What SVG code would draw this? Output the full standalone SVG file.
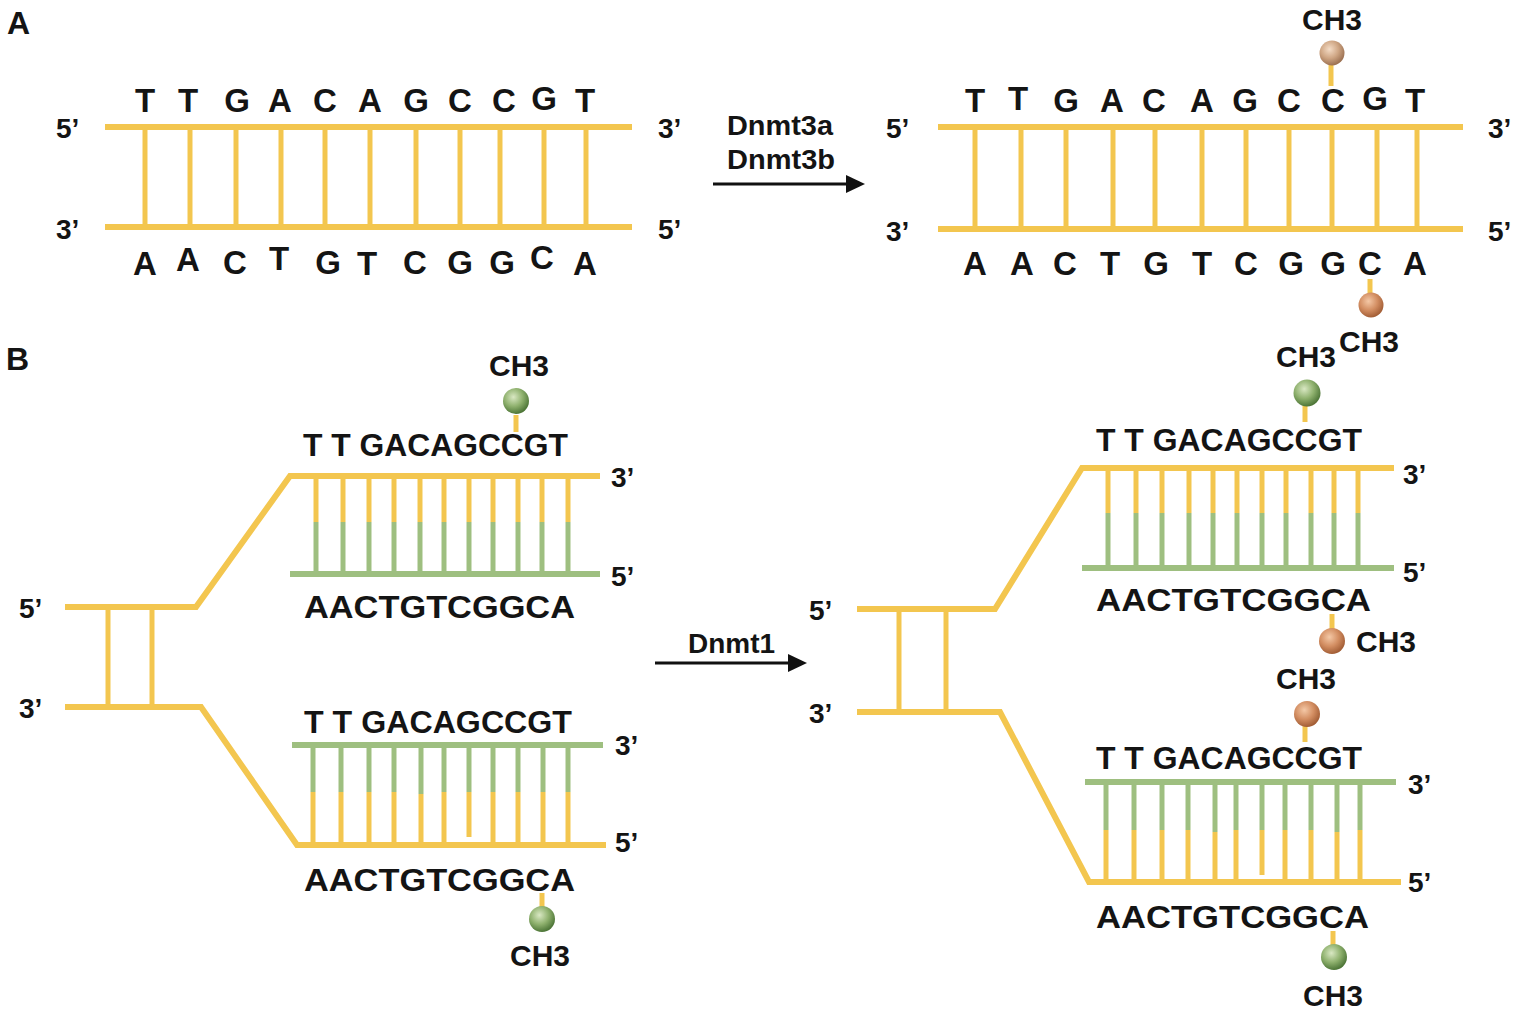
<svg xmlns="http://www.w3.org/2000/svg" width="1519" height="1015" viewBox="0 0 1519 1015">
<defs>
<style>
text{font-family:"Liberation Sans",Arial,Helvetica,sans-serif;font-weight:bold;fill:#141414}
.y{stroke:#F3C64F;stroke-width:6;fill:none;stroke-linejoin:miter}
.yr{stroke:#F3C64F;stroke-width:5;fill:none}
.g{stroke:#9EBF80;stroke-width:6;fill:none}
.gr{stroke:#9EBF80;stroke-width:5;fill:none}
.base{font-size:33px;text-anchor:middle}
.end{font-size:28px}
.seq{font-size:31px}
.ch{font-size:30px}
.lbl{font-size:32px}
.enz{font-size:28px}
.arr{stroke:#111;stroke-width:3;fill:none}
</style>
<radialGradient id="gGreen" cx="0.4" cy="0.35" r="0.65">
<stop offset="0" stop-color="#D9E8C3"/>
<stop offset="0.55" stop-color="#8FB16E"/>
<stop offset="1" stop-color="#4E7638"/>
</radialGradient>
<radialGradient id="gTan" cx="0.4" cy="0.35" r="0.65">
<stop offset="0" stop-color="#F4DCC6"/>
<stop offset="0.55" stop-color="#CFA684"/>
<stop offset="1" stop-color="#9C7152"/>
</radialGradient>
<radialGradient id="gOrange" cx="0.4" cy="0.35" r="0.65">
<stop offset="0" stop-color="#F4C8A6"/>
<stop offset="0.55" stop-color="#D38E62"/>
<stop offset="1" stop-color="#A35E36"/>
</radialGradient>
</defs>
<rect width="1519" height="1015" fill="#ffffff"/>

<g id="panel-labels">
<text class="lbl" x="7" y="34">A</text>
<text class="lbl" x="6" y="370">B</text>
</g>

<!-- Panel A left duplex -->
<g id="A-left-duplex">
<line class="y" x1="105" y1="127" x2="632" y2="127"/>
<line class="y" x1="105" y1="227" x2="632" y2="227"/>
<g class="yr">
<line x1="145" y1="127" x2="145" y2="227"/><line x1="190" y1="127" x2="190" y2="227"/>
<line x1="236" y1="127" x2="236" y2="227"/><line x1="281" y1="127" x2="281" y2="227"/>
<line x1="325" y1="127" x2="325" y2="227"/><line x1="370" y1="127" x2="370" y2="227"/>
<line x1="416" y1="127" x2="416" y2="227"/><line x1="460" y1="127" x2="460" y2="227"/>
<line x1="500" y1="127" x2="500" y2="227"/><line x1="544" y1="127" x2="544" y2="227"/>
<line x1="586" y1="127" x2="586" y2="227"/>
</g>
<text class="base" y="112"><tspan x="145">T</tspan><tspan x="188">T</tspan><tspan x="237">G</tspan><tspan x="280">A</tspan><tspan x="325">C</tspan><tspan x="370">A</tspan><tspan x="416">G</tspan><tspan x="460">C</tspan><tspan x="504">C</tspan><tspan x="544" y="110">G</tspan><tspan x="585" y="112">T</tspan></text>
<text class="base"><tspan x="145" y="275">A</tspan><tspan x="188" y="271">A</tspan><tspan x="235" y="274">C</tspan><tspan x="279" y="270">T</tspan><tspan x="328" y="274">G</tspan><tspan x="367" y="275">T</tspan><tspan x="415" y="274">C</tspan><tspan x="460" y="274">G</tspan><tspan x="502" y="274">G</tspan><tspan x="542" y="269">C</tspan><tspan x="585" y="275">A</tspan></text>
<text class="end" x="56" y="138">5’</text>
<text class="end" x="658" y="138">3’</text>
<text class="end" x="56" y="239">3’</text>
<text class="end" x="658" y="239">5’</text>
</g>

<!-- Panel A right duplex -->
<g id="A-right-duplex">
<line class="y" x1="938" y1="127" x2="1463" y2="127"/>
<line class="y" x1="938" y1="229" x2="1463" y2="229"/>
<g class="yr">
<line x1="975" y1="127" x2="975" y2="229"/><line x1="1021" y1="127" x2="1021" y2="229"/>
<line x1="1066" y1="127" x2="1066" y2="229"/><line x1="1113" y1="127" x2="1113" y2="229"/>
<line x1="1155" y1="127" x2="1155" y2="229"/><line x1="1202" y1="127" x2="1202" y2="229"/>
<line x1="1246" y1="127" x2="1246" y2="229"/><line x1="1289" y1="127" x2="1289" y2="229"/>
<line x1="1332" y1="127" x2="1332" y2="229"/><line x1="1377" y1="127" x2="1377" y2="229"/>
<line x1="1417" y1="127" x2="1417" y2="229"/>
</g>
<text class="base" y="112"><tspan x="975">T</tspan><tspan x="1018" y="110">T</tspan><tspan x="1066" y="112">G</tspan><tspan x="1112">A</tspan><tspan x="1154">C</tspan><tspan x="1202">A</tspan><tspan x="1245">G</tspan><tspan x="1289">C</tspan><tspan x="1333">C</tspan><tspan x="1375" y="110">G</tspan><tspan x="1415" y="112">T</tspan></text>
<text class="base" y="275"><tspan x="975">A</tspan><tspan x="1022">A</tspan><tspan x="1065">C</tspan><tspan x="1110">T</tspan><tspan x="1156">G</tspan><tspan x="1202">T</tspan><tspan x="1246">C</tspan><tspan x="1291">G</tspan><tspan x="1333">G</tspan><tspan x="1370">C</tspan><tspan x="1415">A</tspan></text>
<text class="end" x="886" y="138">5’</text>
<text class="end" x="1488" y="138">3’</text>
<text class="end" x="886" y="241">3’</text>
<text class="end" x="1488" y="241">5’</text>
</g>

<g id="A-right-methyl-top">
<line class="yr" x1="1331" y1="64" x2="1331" y2="86"/>
<circle cx="1332" cy="53" r="12.5" fill="url(#gTan)"/>
<text class="ch" x="1332" y="30" text-anchor="middle">CH3</text>
</g>
<g id="A-right-methyl-bottom">
<line class="yr" x1="1370" y1="279" x2="1370" y2="295"/>
<circle cx="1371" cy="305" r="12.5" fill="url(#gOrange)"/>
<text class="ch" x="1369" y="352" text-anchor="middle">CH3</text>
</g>

<!-- Panel B left -->
<g id="B-left-fork">
<polyline class="y" points="65,607 196,607 290,476 600,476"/>
<polyline class="y" points="65,707 201,707 297,845 606,845"/>
<line class="yr" x1="108" y1="607" x2="108" y2="707"/>
<line class="yr" x1="152" y1="607" x2="152" y2="707"/>
<text class="end" x="19" y="618">5’</text>
<text class="end" x="19" y="718">3’</text>
</g>

<g id="B-left-upper-duplex">
<line class="g" x1="290" y1="574" x2="600" y2="574"/>
<g class="yr">
<line x1="316" y1="476" x2="316" y2="522"/><line x1="343" y1="476" x2="343" y2="522"/>
<line x1="369" y1="476" x2="369" y2="522"/><line x1="394" y1="476" x2="394" y2="522"/>
<line x1="420" y1="476" x2="420" y2="522"/><line x1="444" y1="476" x2="444" y2="522"/>
<line x1="469" y1="476" x2="469" y2="522"/><line x1="493" y1="476" x2="493" y2="522"/>
<line x1="518" y1="476" x2="518" y2="522"/><line x1="542" y1="476" x2="542" y2="522"/>
<line x1="568" y1="476" x2="568" y2="522"/>
</g>
<g class="gr">
<line x1="316" y1="522" x2="316" y2="571"/><line x1="343" y1="522" x2="343" y2="571"/>
<line x1="369" y1="522" x2="369" y2="571"/><line x1="394" y1="522" x2="394" y2="571"/>
<line x1="420" y1="522" x2="420" y2="571"/><line x1="444" y1="522" x2="444" y2="571"/>
<line x1="469" y1="522" x2="469" y2="571"/><line x1="493" y1="522" x2="493" y2="571"/>
<line x1="518" y1="522" x2="518" y2="571"/><line x1="542" y1="522" x2="542" y2="571"/>
<line x1="568" y1="522" x2="568" y2="571"/>
</g>
<text class="seq" x="303" y="456" textLength="265" lengthAdjust="spacingAndGlyphs">T T GACAGCCGT</text>
<text class="seq" x="304" y="618" textLength="271" lengthAdjust="spacingAndGlyphs">AACTGTCGGCA</text>
<text class="end" x="611" y="487">3’</text>
<text class="end" x="611" y="586">5’</text>
<line class="yr" x1="516" y1="415" x2="516" y2="432"/>
<circle cx="516" cy="401" r="13" fill="url(#gGreen)"/>
<text class="ch" x="519" y="376" text-anchor="middle">CH3</text>
</g>

<g id="B-left-lower-duplex">
<line class="g" x1="292" y1="745" x2="603" y2="745"/>
<g class="gr">
<line x1="313" y1="745" x2="313" y2="792"/><line x1="341" y1="745" x2="341" y2="792"/>
<line x1="369" y1="745" x2="369" y2="792"/><line x1="394" y1="745" x2="394" y2="792"/>
<line x1="421" y1="745" x2="421" y2="794"/><line x1="444" y1="745" x2="444" y2="792"/>
<line x1="469" y1="745" x2="469" y2="792"/><line x1="493" y1="745" x2="493" y2="792"/>
<line x1="518" y1="745" x2="518" y2="792"/><line x1="543" y1="745" x2="543" y2="792"/>
<line x1="568" y1="745" x2="568" y2="792"/>
</g>
<g class="yr">
<line x1="313" y1="792" x2="313" y2="845"/><line x1="341" y1="792" x2="341" y2="845"/>
<line x1="369" y1="792" x2="369" y2="845"/><line x1="394" y1="792" x2="394" y2="845"/>
<line x1="421" y1="794" x2="421" y2="845"/><line x1="444" y1="792" x2="444" y2="845"/>
<line x1="469" y1="792" x2="469" y2="837"/><line x1="493" y1="792" x2="493" y2="845"/>
<line x1="518" y1="792" x2="518" y2="845"/><line x1="543" y1="792" x2="543" y2="845"/>
<line x1="568" y1="792" x2="568" y2="845"/>
</g>
<text class="seq" x="304" y="733" textLength="268" lengthAdjust="spacingAndGlyphs">T T GACAGCCGT</text>
<text class="seq" x="304" y="891" textLength="271" lengthAdjust="spacingAndGlyphs">AACTGTCGGCA</text>
<text class="end" x="615" y="755">3’</text>
<text class="end" x="615" y="852">5’</text>
<line class="yr" x1="542" y1="893" x2="542" y2="907"/>
<circle cx="542" cy="919" r="13" fill="url(#gGreen)"/>
<text class="ch" x="540" y="966" text-anchor="middle">CH3</text>
</g>

<!-- Panel B right -->
<g id="B-right-fork">
<polyline class="y" points="857,609 995,609 1082,468 1394,468"/>
<polyline class="y" points="857,712 1000,712 1089,882 1401,882"/>
<line class="yr" x1="899" y1="609" x2="899" y2="712"/>
<line class="yr" x1="946" y1="609" x2="946" y2="712"/>
<text class="end" x="809" y="620">5’</text>
<text class="end" x="809" y="723">3’</text>
</g>

<g id="B-right-upper-duplex">
<line class="g" x1="1082" y1="568" x2="1394" y2="568"/>
<g class="yr">
<line x1="1108" y1="468" x2="1108" y2="513"/><line x1="1136" y1="468" x2="1136" y2="513"/>
<line x1="1162" y1="468" x2="1162" y2="513"/><line x1="1189" y1="468" x2="1189" y2="513"/>
<line x1="1213" y1="468" x2="1213" y2="513"/><line x1="1237" y1="468" x2="1237" y2="513"/>
<line x1="1262" y1="468" x2="1262" y2="513"/><line x1="1286" y1="468" x2="1286" y2="513"/>
<line x1="1311" y1="468" x2="1311" y2="513"/><line x1="1334" y1="468" x2="1334" y2="513"/>
<line x1="1358" y1="468" x2="1358" y2="513"/>
</g>
<g class="gr">
<line x1="1108" y1="513" x2="1108" y2="566"/><line x1="1136" y1="513" x2="1136" y2="566"/>
<line x1="1162" y1="513" x2="1162" y2="566"/><line x1="1189" y1="513" x2="1189" y2="566"/>
<line x1="1213" y1="513" x2="1213" y2="566"/><line x1="1237" y1="513" x2="1237" y2="566"/>
<line x1="1262" y1="513" x2="1262" y2="566"/><line x1="1286" y1="513" x2="1286" y2="566"/>
<line x1="1311" y1="513" x2="1311" y2="566"/><line x1="1334" y1="513" x2="1334" y2="566"/>
<line x1="1358" y1="513" x2="1358" y2="566"/>
</g>
<text class="seq" x="1096" y="451" textLength="266" lengthAdjust="spacingAndGlyphs">T T GACAGCCGT</text>
<text class="seq" x="1096" y="611" textLength="275" lengthAdjust="spacingAndGlyphs">AACTGTCGGCA</text>
<text class="end" x="1403" y="484">3’</text>
<text class="end" x="1403" y="582">5’</text>
<line class="yr" x1="1305" y1="405" x2="1305" y2="422"/>
<circle cx="1307" cy="393" r="13.5" fill="url(#gGreen)"/>
<text class="ch" x="1306" y="367" text-anchor="middle">CH3</text>
<line class="yr" x1="1332" y1="614" x2="1332" y2="630"/>
<circle cx="1332" cy="641" r="13" fill="url(#gOrange)"/>
<text class="ch" x="1356" y="652">CH3</text>
</g>

<g id="B-right-lower-duplex">
<line class="g" x1="1085" y1="782" x2="1396" y2="782"/>
<g class="gr">
<line x1="1106" y1="782" x2="1106" y2="830"/><line x1="1134" y1="782" x2="1134" y2="830"/>
<line x1="1162" y1="782" x2="1162" y2="830"/><line x1="1188" y1="782" x2="1188" y2="830"/>
<line x1="1215" y1="782" x2="1215" y2="832"/><line x1="1236" y1="782" x2="1236" y2="830"/>
<line x1="1262" y1="782" x2="1262" y2="830"/><line x1="1285" y1="782" x2="1285" y2="830"/>
<line x1="1311" y1="782" x2="1311" y2="830"/><line x1="1337" y1="782" x2="1337" y2="832"/>
<line x1="1360" y1="782" x2="1360" y2="830"/>
</g>
<g class="yr">
<line x1="1106" y1="830" x2="1106" y2="882"/><line x1="1134" y1="830" x2="1134" y2="882"/>
<line x1="1162" y1="830" x2="1162" y2="882"/><line x1="1188" y1="830" x2="1188" y2="882"/>
<line x1="1215" y1="832" x2="1215" y2="882"/><line x1="1236" y1="830" x2="1236" y2="882"/>
<line x1="1262" y1="830" x2="1262" y2="875"/><line x1="1285" y1="830" x2="1285" y2="882"/>
<line x1="1311" y1="830" x2="1311" y2="882"/><line x1="1337" y1="832" x2="1337" y2="882"/>
<line x1="1360" y1="830" x2="1360" y2="882"/>
</g>
<text class="seq" x="1096" y="769" textLength="266" lengthAdjust="spacingAndGlyphs">T T GACAGCCGT</text>
<text class="seq" x="1096" y="928" textLength="273" lengthAdjust="spacingAndGlyphs">AACTGTCGGCA</text>
<text class="end" x="1408" y="794">3’</text>
<text class="end" x="1408" y="892">5’</text>
<line class="yr" x1="1305" y1="726" x2="1305" y2="742"/>
<circle cx="1307" cy="714" r="13" fill="url(#gOrange)"/>
<text class="ch" x="1306" y="689" text-anchor="middle">CH3</text>
<line class="yr" x1="1333" y1="931" x2="1333" y2="946"/>
<circle cx="1334" cy="957" r="13" fill="url(#gGreen)"/>
<text class="ch" x="1333" y="1006" text-anchor="middle">CH3</text>
</g>

<g id="connectors">
<line class="arr" x1="713" y1="184" x2="850" y2="184"/>
<polygon points="846,175 865,184 846,193" fill="#111"/>
<text class="enz" x="727" y="135" textLength="106" lengthAdjust="spacingAndGlyphs">Dnmt3a</text>
<text class="enz" x="727" y="169" textLength="108" lengthAdjust="spacingAndGlyphs">Dnmt3b</text>
<line class="arr" x1="655" y1="663" x2="792" y2="663"/>
<polygon points="788,654 807,663 788,672" fill="#111"/>
<text class="enz" x="688" y="653" textLength="87" lengthAdjust="spacingAndGlyphs">Dnmt1</text>
</g>
</svg>
